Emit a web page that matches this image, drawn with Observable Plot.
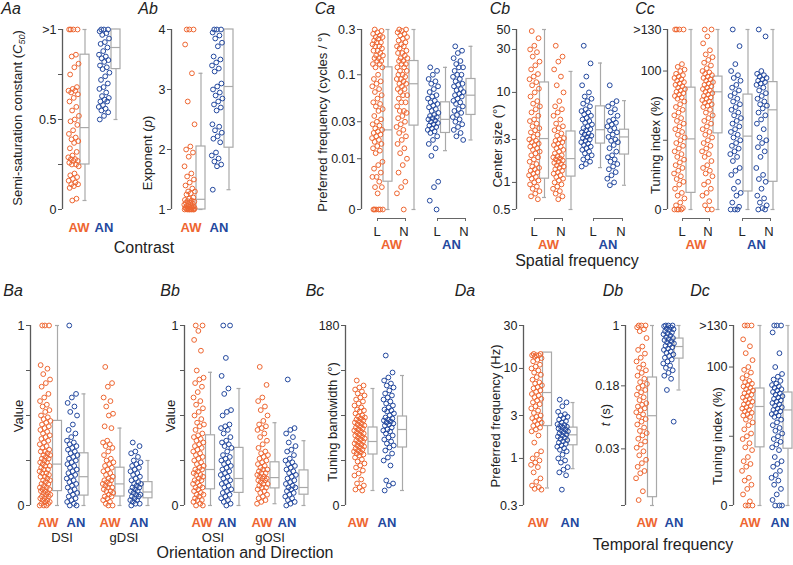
<!DOCTYPE html>
<html><head><meta charset="utf-8">
<script src="https://cdn.jsdelivr.net/npm/d3@7"></script>
<script src="https://cdn.jsdelivr.net/npm/@observablehq/plot@0.6"></script>
<style>
body{margin:0;background:#fff;}
#fig{position:relative;width:793px;height:565px;font-family:"Liberation Sans",Arial,sans-serif;color:#222;overflow:hidden;background:#fff;}
.t{position:absolute;white-space:nowrap;transform:translate(-50%,-50%);line-height:1;}
.r{transform:translate(-50%,-50%) rotate(-90deg);}
.pl{font-style:italic;font-size:16px;}
.yt{font-size:13px;}
.g{font-weight:bold;font-size:13px;}
.s{font-size:13px;}
.sec{font-size:16px;}
.panel{position:absolute;}
.panel svg{overflow:visible;background:transparent;max-width:none;}
.panel svg text{fill:#222;font-size:12.5px;}
.br{position:absolute;border:1.2px solid #666;border-bottom:none;height:3px;box-sizing:border-box;}
</style></head><body><div id="fig"></div><script>
// ---------- data ----------
// Aa: semi-saturation constant C50 (values >1 shown at 1)
const aaAW = [1,1,1,1,0.86,0.85,0.81,0.79,0.75,0.68,0.67,0.66,0.66,0.65,0.64,0.62,0.6,0.57,0.55,0.52,0.5,0.49,0.47,0.44,0.42,0.4,0.39,0.38,0.37,0.34,0.32,0.3,0.29,0.28,0.28,0.27,0.27,0.26,0.25,0.25,0.24,0.2,0.19,0.18,0.17,0.16,0.15,0.14,0.14,0.13,0.12,0.06,0.05];
const aaAN = [1,1,1,0.99,0.98,0.97,0.95,0.93,0.92,0.9,0.88,0.86,0.85,0.84,0.83,0.82,0.8,0.79,0.78,0.76,0.74,0.72,0.7,0.68,0.67,0.65,0.63,0.62,0.61,0.6,0.6,0.58,0.57,0.56,0.55,0.54,0.52,0.5];
const aaAWbox = [0.05,0.25,0.455,0.86,1];
const aaANbox = [0.5,0.78,0.9,1,1];
// Ab: exponent p
const abAW = [4,4,4,3.75,3.27,2.8,2.42,2.05,2.0,1.95,1.88,1.72,1.6,1.55,1.5,1.45,1.4,1.35,1.3,1.3,1.27,1.25,1.2,1.18,1.16,1.15,1.14,1.13,1.12,1.11,1.1,1.09,1.08,1.07,1.06,1.05,1.04,1.03,1.03,1.02,1.02,1.01,1.01,1,1,1,1,1,1,1];
const abAN = [4,4,4,3.95,3.9,3.85,3.78,3.72,3.55,3.5,3.45,3.4,3.35,3.3,3.1,3.05,3.0,2.95,2.9,2.85,2.8,2.75,2.7,2.65,2.42,2.38,2.32,2.28,2.22,2.18,2.12,1.95,1.9,1.85,1.8,1.75,1.72,1.33];
const abAWbox = [1,1,1.17,2.05,3.27];
const abANbox = [1.33,2.03,3.05,4,4];
// Ca: preferred spatial frequency (cycles/deg), L and N
const caAWL = [0.3,0.29,0.28,0.27,0.26,0.25,0.25,0.24,0.23,0.22,0.22,0.21,0.2,0.2,0.19,0.18,0.18,0.17,0.16,0.16,0.15,0.15,0.14,0.14,0.13,0.13,0.12,0.12,0.1,0.09,0.085,0.08,0.075,0.07,0.065,0.06,0.055,0.05,0.048,0.045,0.042,0.04,0.035,0.032,0.03,0.028,0.027,0.025,0.024,0.023,0.022,0.021,0.02,0.019,0.018,0.017,0.016,0.015,0.014,0.013,0.012,0.009,0.008,0.007,0.006,0.005,0.005,0.004,0.003,0.003,0.002,0,0,0,0,0,0];
const caAWN = [0.3,0.3,0.29,0.28,0.27,0.26,0.25,0.24,0.23,0.22,0.21,0.2,0.2,0.19,0.18,0.17,0.17,0.16,0.15,0.15,0.14,0.14,0.13,0.13,0.12,0.12,0.11,0.11,0.1,0.1,0.095,0.09,0.09,0.085,0.08,0.08,0.075,0.07,0.07,0.065,0.06,0.06,0.055,0.05,0.05,0.045,0.04,0.04,0.038,0.035,0.033,0.03,0.028,0.026,0.024,0.022,0.02,0.018,0.016,0.014,0.012,0.01,0.008,0.006,0.004,0.003,0.002,0];
const caANL = [0.12,0.11,0.1,0.09,0.085,0.08,0.075,0.07,0.065,0.06,0.058,0.055,0.052,0.05,0.048,0.046,0.044,0.042,0.04,0.038,0.036,0.035,0.034,0.033,0.032,0.031,0.03,0.029,0.028,0.027,0.026,0.025,0.024,0.023,0.022,0.02,0.018,0.016,0.014,0.011,0.004,0.003,0.001,0];
const caANN = [0.2,0.18,0.17,0.15,0.14,0.13,0.12,0.12,0.11,0.1,0.1,0.095,0.09,0.085,0.08,0.078,0.075,0.07,0.068,0.065,0.062,0.06,0.058,0.055,0.052,0.05,0.048,0.045,0.042,0.04,0.038,0.036,0.034,0.032,0.03,0.028,0.026,0.024,0.022,0.02,0.018];
const caAWLbox = [0,0.004,0.024,0.12,0.3];
const caAWNbox = [0,0.027,0.08,0.14,0.3];
const caANLbox = [0.013,0.022,0.032,0.05,0.12];
const caANNbox = [0.018,0.036,0.06,0.09,0.2];
// Cb: center size (deg)
const cbAWL = [48,40,33,30,28,25,22,20,18,16,15,14,13,12,11,10,9,8,7.5,7,6.5,6,5.5,5,4.8,4.5,4.2,4,3.8,3.6,3.4,3.2,3,2.9,2.8,2.7,2.6,2.5,2.4,2.3,2.2,2.1,2,1.9,1.8,1.7,1.6,1.5,1.45,1.4,1.35,1.3,1.25,1.2,1.15,1.1,1.05,1,0.95,0.9,0.85,0.8,0.75,0.7,0.65];
const cbAWN = [33,25,22,18,15,12,10,8,7,6.5,6,5.5,5,4.5,4.2,4,3.8,3.5,3.3,3.1,3,2.9,2.8,2.7,2.6,2.5,2.4,2.3,2.2,2.1,2,1.95,1.9,1.85,1.8,1.75,1.7,1.65,1.6,1.55,1.5,1.45,1.4,1.35,1.3,1.25,1.2,1.15,1.1,1.05,1,0.95,0.9,0.85,0.8,0.75,0.7,0.65];
const cbANL = [33,21,15,12,10,9,8.5,8,7.5,7,6.5,6.2,6,5.7,5.5,5.2,5,4.8,4.6,4.4,4.2,4,3.9,3.8,3.6,3.5,3.4,3.3,3.2,3.1,3,2.9,2.8,2.7,2.6,2.5,2.4,2.3,2.2,2.1,2,1.9,1.8,1.7,1.6,1.5];
const cbANN = [12,8,7.5,7,6.5,6,5.5,5,4.8,4.6,4.4,4.2,4,3.8,3.6,3.4,3.2,3,2.9,2.8,2.6,2.4,2.2,2,1.9,1.8,1.7,1.6,1.5,1.4,1.3,1.2,1.1,1,0.93];
const cbAWLbox = [0.68,1.1,3.07,12.9,50];
const cbAWNbox = [0.5,1.16,1.84,3.68,17.1];
const cbANLbox = [1.46,2.7,3.85,7.0,21.2];
const cbANNbox = [0.93,2.04,3.2,3.85,8.1];
// Cc: tuning index (%) (values >130 shown at 130)
const ccAWL = [130,130,130,130,105,103,101,100,98,97,96,95,94,93,92,91,90,89,88,87,86,85,84,83,82,81,80,78,76,74,72,70,68,66,64,62,60,58,56,54,52,50,48,46,44,42,40,38,36,34,32,30,28,26,24,22,20,18,15,12,10,8,5,3,1,0,0,0,0];
const ccAWN = [130,130,125,120,115,112,110,108,106,104,102,100,99,98,97,96,95,94,93,92,91,90,89,88,87,86,85,84,83,82,81,80,79,78,77,76,75,74,72,70,68,66,64,62,60,58,56,54,52,50,48,46,44,42,40,38,35,32,30,28,26,24,20,18,15,12,10,6,3,0,0];
const ccANL = [130,118,105,100,97,95,93,90,88,86,84,82,80,78,76,74,72,70,68,66,64,62,60,58,56,54,52,50,48,46,44,42,40,38,35,30,28,25,20,15,12,10,5,2,0,0,0];
const ccANN = [130,125,100,98,97,96,95,94,93,92,91,90,88,86,84,82,80,78,76,75,73,70,68,65,62,58,52,50,48,45,42,38,30,25,22,20,15,10,8,5,3,1,0,0];
const ccAWLbox = [0,12,51,88,130];
const ccAWNbox = [0,55,85,96,130];
const ccANLbox = [0,13,53,83,130];
const ccANNbox = [0,20,72,92,130];
// Ba: DSI and gDSI
const baAWdsi = [1,1,1,0.78,0.76,0.73,0.7,0.68,0.66,0.62,0.6,0.58,0.56,0.55,0.53,0.52,0.5,0.49,0.48,0.47,0.46,0.45,0.44,0.43,0.42,0.41,0.4,0.39,0.38,0.37,0.36,0.35,0.34,0.33,0.32,0.31,0.3,0.3,0.29,0.28,0.28,0.27,0.26,0.26,0.25,0.24,0.24,0.23,0.22,0.22,0.21,0.2,0.2,0.19,0.18,0.18,0.17,0.16,0.16,0.15,0.14,0.14,0.13,0.12,0.12,0.11,0.1,0.1,0.09,0.09,0.08,0.08,0.07,0.07,0.06,0.06,0.05,0.05,0.04,0.04,0.03,0.03,0.02,0.02,0.01,0.01,0,0,0];
const baANdsi = [1,0.62,0.6,0.57,0.55,0.52,0.5,0.45,0.42,0.4,0.38,0.36,0.35,0.34,0.33,0.32,0.31,0.3,0.29,0.28,0.27,0.26,0.25,0.24,0.23,0.22,0.21,0.2,0.19,0.18,0.17,0.16,0.15,0.14,0.13,0.12,0.11,0.1,0.09,0.08,0.07,0.06,0.05,0.04,0.03,0.02,0.01,0,0];
const baAWgdsi = [0.77,0.68,0.66,0.6,0.58,0.55,0.51,0.5,0.44,0.43,0.36,0.35,0.34,0.33,0.32,0.3,0.28,0.26,0.25,0.24,0.23,0.22,0.21,0.2,0.19,0.18,0.17,0.16,0.15,0.14,0.14,0.13,0.12,0.12,0.11,0.1,0.1,0.09,0.08,0.08,0.07,0.06,0.05,0.05,0.04,0.03,0.02,0.01,0,0];
const baANgdsi = [0.35,0.33,0.3,0.29,0.27,0.25,0.24,0.23,0.22,0.21,0.2,0.19,0.18,0.17,0.16,0.15,0.14,0.13,0.12,0.12,0.11,0.1,0.1,0.09,0.08,0.08,0.07,0.06,0.06,0.05,0.05,0.04,0.03,0.03,0.02,0.01,0.01,0];
const baAWdsiBox = [0,0.08,0.23,0.47,1];
const baANdsiBox = [0,0.055,0.16,0.29,0.62];
const baAWgdsiBox = [0,0.05,0.12,0.21,0.43];
const baANgdsiBox = [0,0.04,0.075,0.13,0.25];
// Bb: OSI and gOSI
const bbAWosi = [1,1,0.97,0.92,0.86,0.75,0.71,0.7,0.68,0.66,0.63,0.6,0.58,0.56,0.54,0.52,0.5,0.48,0.46,0.45,0.44,0.42,0.4,0.39,0.38,0.37,0.36,0.35,0.34,0.33,0.32,0.31,0.3,0.29,0.28,0.27,0.26,0.25,0.24,0.23,0.22,0.21,0.2,0.2,0.19,0.18,0.17,0.17,0.16,0.15,0.14,0.14,0.13,0.12,0.11,0.1,0.1,0.09,0.08,0.07,0.06,0.06,0.05,0.04,0.03,0.03,0.02,0.01,0,0];
const bbANosi = [1,1,0.82,0.72,0.65,0.62,0.53,0.52,0.5,0.45,0.44,0.43,0.42,0.4,0.38,0.36,0.35,0.34,0.33,0.32,0.3,0.28,0.27,0.26,0.25,0.24,0.23,0.22,0.21,0.2,0.19,0.18,0.17,0.16,0.15,0.14,0.13,0.12,0.11,0.1,0.09,0.08,0.07,0.06,0.05,0.04,0.03,0.02,0.01,0];
const bbAWgosi = [0.77,0.67,0.6,0.58,0.55,0.53,0.5,0.47,0.45,0.44,0.43,0.42,0.4,0.38,0.36,0.34,0.32,0.3,0.29,0.28,0.27,0.26,0.25,0.24,0.23,0.22,0.21,0.2,0.2,0.19,0.18,0.18,0.17,0.16,0.16,0.15,0.15,0.14,0.14,0.13,0.12,0.12,0.11,0.1,0.1,0.09,0.08,0.07,0.06,0.05,0.04,0.03,0.02,0.01];
const bbANgosi = [0.7,0.43,0.42,0.4,0.38,0.35,0.33,0.31,0.3,0.28,0.26,0.25,0.24,0.23,0.22,0.21,0.2,0.19,0.18,0.17,0.16,0.15,0.14,0.13,0.12,0.11,0.1,0.1,0.09,0.08,0.07,0.06,0.05,0.04,0.03,0.02,0.01,0];
const bbAWosiBox = [0,0.09,0.2,0.39,0.74];
const bbANosiBox = [0,0.07,0.15,0.32,0.65];
const bbAWgosiBox = [0.01,0.095,0.155,0.24,0.46];
const bbANgosiBox = [0,0.06,0.1,0.195,0.36];
// Bc: tuning bandwidth (deg)
const bcAW = [125,120,118,116,114,112,110,108,106,104,102,100,98,96,95,94,92,90,89,88,87,86,85,84,83,82,81,80,79,78,77,76,75,74,73,72,71,70,69,68,67,66,65,64,63,62,61,60,59,58,57,56,55,54,53,52,51,50,48,46,44,42,40,38,35,32,30,26,22,20,18,16,15];
const bcAN = [150,133,128,125,122,120,118,115,112,110,108,106,104,102,100,98,96,95,94,92,90,88,87,86,85,84,83,82,81,80,78,76,75,74,72,70,68,66,64,62,60,58,55,52,48,45,40,25,22,20,15];
const bcAWbox = [15,51,64,78,117];
const bcANbox = [15,58,76,89,130];
// Da: preferred temporal frequency (Hz)
const daAW = [14.5,14.5,14,14,14,13.5,13,12.5,12,11,10.5,10,9.5,9,8.5,8,7.5,7,6.8,6.5,6.2,6,5.7,5.5,5.2,5,4.8,4.6,4.4,4.2,4,3.8,3.6,3.4,3.2,3,2.9,2.8,2.7,2.6,2.5,2.4,2.3,2.2,2.1,2,1.8,1.5,1.2,1.1,1,0.95,0.9,0.85,0.8,0.7,0.6,0.55,0.5,0.48,0.46,0.45];
const daAN = [4.5,4.2,3.8,3.3,3.1,3,2.9,2.8,2.7,2.6,2.5,2.4,2.35,2.3,2.25,2.2,2.15,2.1,2.05,2,1.95,1.9,1.85,1.8,1.75,1.7,1.65,1.6,1.55,1.5,1.45,1.4,1.35,1.3,1.25,1.2,1.1,1,0.95,0.9,0.8,0.75,0.7,0.65,0.45];
const daAWbox = [0.47,2.29,5.4,15,15];
const daANbox = [0.77,1.4,1.83,2.2,4.18];
// Db: time constant t (s)
const dbAW = [1,1,1,0.95,0.9,0.85,0.7,0.55,0.5,0.45,0.4,0.36,0.33,0.3,0.28,0.26,0.24,0.22,0.2,0.19,0.18,0.17,0.16,0.15,0.14,0.13,0.12,0.11,0.105,0.1,0.095,0.09,0.085,0.08,0.075,0.07,0.065,0.06,0.055,0.05,0.047,0.044,0.04,0.037,0.034,0.031,0.028,0.025,0.022,0.02,0.018,0.016,0.015,0.013,0.009,0.007];
const dbAN = [1,1,1,0.98,0.95,0.92,0.9,0.88,0.85,0.82,0.8,0.78,0.75,0.72,0.7,0.68,0.66,0.64,0.62,0.6,0.58,0.56,0.54,0.52,0.5,0.48,0.46,0.44,0.42,0.4,0.38,0.36,0.34,0.32,0.3,0.28,0.26,0.24,0.22,0.16,0.065];
const dbAWbox = [0.006,0.0076,0.077,0.228,1];
const dbANbox = [0.16,0.39,0.55,0.69,1];
// Dc: temporal tuning index (%)
const dcAW = [130,130,130,120,115,110,105,100,98,96,94,92,90,89,88,87,86,85,84,83,82,81,80,79,78,77,76,75,74,73,72,71,70,69,68,67,66,65,64,62,60,58,55,52,50,48,45,42,40,35,32,30,28,25,20,18,15,12,8,3,0,0,0];
const dcAN = [130,130,130,125,110,100,95,93,91,90,88,87,86,85,84,83,82,81,80,79,78,77,76,75,74,73,72,71,70,69,68,67,66,65,64,62,60,58,56,54,52,50,48,46,44,42,40,35,32,30,28,25,22,20,18,15,12,8,4,0,0,0];
const dcAWbox = [0,42,71.5,84.5,130];
const dcANbox = [0,41,69,81.6,130];

// ---------- styling / layout ----------
const ORANGE = "#EE6631", BLUE = "#23489E", GRAY = "#A9A9A9";
const fig = document.getElementById("fig");
const jit = i => ((i * 0.618034 + 0.25) % 1) - 0.5;

const panels = [
  {axisX:62, top:29, ext:60, y:{type:"linear", domain:[0,1]}, ticks:[0,0.25,0.5,0.75,1], labels:["0","","0.5","",">1"],
   groups:[{v:aaAW,b:aaAWbox,c:ORANGE,p:11,bx:22.5},{v:aaAN,b:aaANbox,c:BLUE,p:41.5,bx:53.5}]},
  {axisX:171, top:29, ext:64, y:{type:"linear", domain:[1,4]}, ticks:[1,2,3,4], labels:["1","2","3","4"],
   groups:[{v:abAW,b:abAWbox,c:ORANGE,p:18,bx:29.5},{v:abAN,b:abANbox,c:BLUE,p:45.5,bx:57.5}]},
  {axisX:361, top:29, ext:116, y:{type:"symlog", constant:0.0043, domain:[0,0.3]}, ticks:[0,0.01,0.03,0.1,0.3], labels:["0","0.01","0.03","0.1","0.3"],
   groups:[{v:caAWL,b:caAWLbox,c:ORANGE,p:16,bx:26.5},{v:caAWN,b:caAWNbox,c:ORANGE,p:40.5,bx:52.5},
           {v:caANL,b:caANLbox,c:BLUE,p:71.5,bx:84},{v:caANN,b:caANNbox,c:BLUE,p:96.5,bx:109.5}]},
  {axisX:516, top:29, ext:114, y:{type:"log", domain:[0.5,50]}, ticks:[0.5,1,3,10,30,50], labels:["0.5","1","3","10","30","50"],
   groups:[{v:cbAWL,b:cbAWLbox,c:ORANGE,p:18,bx:28},{v:cbAWN,b:cbAWNbox,c:ORANGE,p:42,bx:54.5},
           {v:cbANL,b:cbANLbox,c:BLUE,p:70,bx:84},{v:cbANN,b:cbANNbox,c:BLUE,p:96,bx:108}]},
  {axisX:667, top:29, ext:112, y:{type:"linear", domain:[0,130]}, ticks:[0,50,100,130], labels:["0","","100",">130"],
   groups:[{v:ccAWL,b:ccAWLbox,c:ORANGE,p:12,bx:23.5},{v:ccAWN,b:ccAWNbox,c:ORANGE,p:40,bx:50.5},
           {v:ccANL,b:ccANLbox,c:BLUE,p:68,bx:80.5},{v:ccANN,b:ccANNbox,c:BLUE,p:94,bx:105.5}]},
  {axisX:30, top:325, ext:124, y:{type:"linear", domain:[0,1]}, ticks:[0,0.25,0.5,0.75,1], labels:["0","","","","1"],
   groups:[{v:baAWdsi,b:baAWdsiBox,c:ORANGE,p:14.5,bx:27},{v:baANdsi,b:baANdsiBox,c:BLUE,p:41.5,bx:53.5},
           {v:baAWgdsi,b:baAWgdsiBox,c:ORANGE,p:77.5,bx:89.5},{v:baANgdsi,b:baANgdsiBox,c:BLUE,p:105,bx:117.5}]},
  {axisX:184, top:325, ext:126, y:{type:"linear", domain:[0,1]}, ticks:[0,0.25,0.5,0.75,1], labels:["0","","","","1"],
   groups:[{v:bbAWosi,b:bbAWosiBox,c:ORANGE,p:14,bx:26},{v:bbANosi,b:bbANosiBox,c:BLUE,p:41.5,bx:54.5},
           {v:bbAWgosi,b:bbAWgosiBox,c:ORANGE,p:78,bx:90.5},{v:bbANgosi,b:bbANgosiBox,c:BLUE,p:106,bx:119.5}]},
  {axisX:345, top:325, ext:64, y:{type:"linear", domain:[0,180]}, ticks:[0,45,90,135,180], labels:["0","","","","180"],
   groups:[{v:bcAW,b:bcAWbox,c:ORANGE,p:14,bx:27.5},{v:bcAN,b:bcANbox,c:BLUE,p:43,bx:57}]},
  {axisX:523, top:325, ext:56, y:{type:"log", domain:[0.3,30]}, ticks:[0.3,1,3,10,30], labels:["0.3","1","3","10","30"],
   groups:[{v:daAW,b:daAWbox,c:ORANGE,p:13,bx:24},{v:daAN,b:daANbox,c:BLUE,p:39,bx:49.5}]},
  {axisX:625, top:325, ext:60, y:{type:"log", domain:[0.006,1]}, ticks:[0.006,0.03,0.18,1], labels:["0.006","0.03","0.18","1"],
   groups:[{v:dbAW,b:dbAWbox,c:ORANGE,p:16,bx:27},{v:dbAN,b:dbANbox,c:BLUE,p:43,bx:53.5}]},
  {axisX:733, top:325, ext:58, y:{type:"linear", domain:[0,130]}, ticks:[0,50,100,130], labels:["0","","100",">130"],
   groups:[{v:dcAW,b:dcAWbox,c:ORANGE,p:14,bx:26.5},{v:dcAN,b:dcANbox,c:BLUE,p:43.5,bx:54.5}]}
];

function drawPanel(cfg) {
  const ML = 46, MR = 4, MT = 8, MB = 8;
  const boxes = [];
  const dotMarks = [];
  for (const g of cfg.groups) {
    const pts = g.v.map((v, i) => ({x: g.p + jit(i) * 11, v}));
    dotMarks.push(Plot.dot(pts, {x: "x", y: "v", r: 2.4, stroke: g.c, strokeWidth: 1, fill: "none"}));
    const [lo, q1, med, q3, hi] = g.b;
    boxes.push({xc: g.bx, x1: g.bx - 4.5, x2: g.bx + 4.5, c1: g.bx - 2, c2: g.bx + 2, lo, q1, med, q3, hi});
  }
  const lab = new Map(cfg.ticks.map((t, i) => [t, cfg.labels[i]]));
  const svg = Plot.plot({
    width: ML + cfg.ext + MR, height: 180 + MT + MB,
    marginLeft: ML, marginRight: MR, marginTop: MT, marginBottom: MB,
    style: {background: "transparent", fontFamily: "Liberation Sans, Arial, sans-serif", fontSize: "12.5px", color: "#5a5a5a", overflow: "visible"},
    x: {domain: [0, cfg.ext], axis: null},
    y: {...cfg.y, ticks: cfg.ticks, tickFormat: d => lab.has(d) ? lab.get(d) : "", tickSize: 4, tickPadding: 2, label: null},
    marks: [
      Plot.ruleX([0], {stroke: "#5a5a5a", strokeWidth: 1.3}),
      Plot.ruleX(boxes, {x: "xc", y1: "lo", y2: "q1", stroke: GRAY, strokeWidth: 1.2}),
      Plot.ruleX(boxes, {x: "xc", y1: "q3", y2: "hi", stroke: GRAY, strokeWidth: 1.2}),
      Plot.ruleY(boxes, {y: "lo", x1: "c1", x2: "c2", stroke: GRAY, strokeWidth: 1.2}),
      Plot.ruleY(boxes, {y: "hi", x1: "c1", x2: "c2", stroke: GRAY, strokeWidth: 1.2}),
      Plot.rect(boxes, {x1: "x1", x2: "x2", y1: "q1", y2: "q3", fill: "white", stroke: GRAY, strokeWidth: 1.2}),
      Plot.ruleY(boxes, {y: "med", x1: "x1", x2: "x2", stroke: GRAY, strokeWidth: 1.2}),
      ...dotMarks
    ]
  });
  const div = document.createElement("div");
  div.className = "panel";
  div.style.left = (cfg.axisX - ML) + "px";
  div.style.top = (cfg.top - MT) + "px";
  div.style.width = (ML + cfg.ext + MR) + "px";
  div.appendChild(svg);
  fig.appendChild(div);
}
panels.forEach(drawPanel);

function T(html, x, y, cls, color) {
  const d = document.createElement("div");
  d.className = "t " + cls;
  d.style.left = x + "px"; d.style.top = y + "px";
  if (color) d.style.color = color;
  d.innerHTML = html;
  fig.appendChild(d);
}
function bracket(x1, x2, y) {
  const d = document.createElement("div");
  d.className = "br";
  d.style.left = x1 + "px"; d.style.top = y + "px"; d.style.width = (x2 - x1) + "px";
  fig.appendChild(d);
}

// panel letters
[["Aa",11,9],["Ab",148,9],["Ca",325,9],["Cb",500,9],["Cc",645,9],
 ["Ba",13,291],["Bb",170,291],["Bc",315,291],["Da",465,291],["Db",613,291],["Dc",700,291]]
 .forEach(([s,x,y]) => T(s, x, y, "pl"));

// y axis titles
[["Semi-saturation constant (<i>C</i><sub style=\"font-size:9px;font-style:italic\">50</sub>)",19,118],
 ["Exponent (<i>p</i>)",147,153],
 ["Preferred frequency (cycles / °)",322,122],
 ["Center size (°)",497,146],
 ["Tuning index (%)",655,145],
 ["Value",18,416],["Value",170,416],
 ["Tuning bandwidth (°)",332,422],
 ["Preferred frequency (Hz)",495,416],
 ["<i>t</i> (s)",605,415],
 ["Tuning index (%)",717,436]]
 .forEach(([s,x,y]) => T(s, x, y, "yt r"));

// group labels, top row
T("AW",79,227,"g",ORANGE); T("AN",104,227,"g",BLUE);
T("AW",191,227,"g",ORANGE); T("AN",219,227,"g",BLUE);
// L / N brackets
[[377,406,"AW",ORANGE],[437,466,"AN",BLUE],[534,563,"AW",ORANGE],[593,623,"AN",BLUE],[682,710,"AW",ORANGE],[742,771,"AN",BLUE]]
 .forEach(([a,b,s,c]) => {
   bracket(a, b, 218);
   T("L", a, 231, "s"); T("N", b - 2, 231, "s");
   T(s, (a + b) / 2, 244, "g", c);
 });
// group labels, bottom row
[[48,"AW"],[76,"AN"],[110,"AW"],[139,"AN"],[202,"AW"],[227,"AN"],[262,"AW"],[287,"AN"],
 [358,"AW"],[387,"AN"],[538,"AW"],[570,"AN"],[647,"AW"],[674,"AN"],[750,"AW"],[780,"AN"]]
 .forEach(([x,s]) => T(s, x, 522, "g", s === "AW" ? ORANGE : BLUE));
T("DSI",62,537,"s"); T("gDSI",124,537,"s"); T("OSI",213,537,"s"); T("gOSI",270,537,"s");

// section titles
T("Contrast",144,248,"sec");
T("Spatial frequency",577,261,"sec");
T("Orientation and Direction",245,553,"sec");
T("Temporal frequency",663,545,"sec");
</script></body></html>
